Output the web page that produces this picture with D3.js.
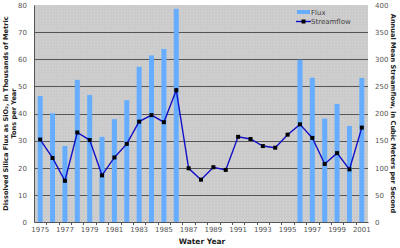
<!DOCTYPE html>
<html>
<head>
<meta charset="utf-8">
<script src="https://cdn.jsdelivr.net/npm/d3@7"></script>
<style>
  body { margin: 0; background: #fff; }
  svg { display: block; }
  .tick text { font-family: "DejaVu Sans", sans-serif; font-size: 7px; fill: #555; }
  .ttl { font-family: "DejaVu Sans", sans-serif; font-weight: bold; fill: #222; }
</style>
</head>
<body>
<div id="chart"></div>
<script>
const years = d3.range(1975, 2002);
// dissolved silica flux, thousands of metric tons (null = no data)
const flux = [46.5, 40.1, 28.0, 52.4, 46.8, 31.4, 37.9, 44.9, 57.2, 61.4, 63.8, 78.6,
  null, null, null, null, null, null, null, null, null,
  59.8, 53.2, 38.1, 43.5, 35.4, 53.1];
// annual mean streamflow, m3/s
const streamflow = [152, 118, 76, 165, 151, 86, 119, 144, 185, 197, 184, 243,
  99, 78, 101, 96, 157, 153, 140, 137, 161,
  180, 155, 107, 127, 97, 174];
const leftTicks = [0, 10, 20, 30, 40, 50, 60, 70, 80];
const rightTicks = [0, 50, 100, 150, 200, 250, 300, 350, 400];

const W = 400, H = 248;
const m = { top: 5, right: 32, bottom: 26, left: 34 };
const iw = W - m.left - m.right;
const ih = H - m.top - m.bottom;

const svg = d3.select("#chart").append("svg").attr("width", W).attr("height", H);

const defs = svg.append("defs");
const pat = defs.append("pattern").attr("id", "dots")
  .attr("width", 3).attr("height", 3).attr("patternUnits", "userSpaceOnUse");
pat.append("rect").attr("width", 3).attr("height", 3).attr("fill", "#cbcbcb");
pat.append("rect").attr("width", 1).attr("height", 1).attr("fill", "#d6d6d6");

const g = svg.append("g").attr("transform", `translate(${m.left},${m.top})`);

const xb = d3.scaleBand().domain(years).range([0, iw]);
const yL = d3.scaleLinear().domain([0, 80]).range([ih, 0]);
const yR = d3.scaleLinear().domain([0, 400]).range([ih, 0]);

g.append("rect").attr("width", iw).attr("height", ih).attr("fill", "url(#dots)");

// gridlines
g.append("g").selectAll("line").data(leftTicks.slice(1, -1)).join("line")
  .attr("x1", 0).attr("x2", iw)
  .attr("y1", (d) => Math.round(yL(d)) + 0.5).attr("y2", (d) => Math.round(yL(d)) + 0.5)
  .attr("stroke", "#555").attr("stroke-width", 1);

// flux bars
const bw = 5;
g.append("g").selectAll("rect")
  .data(years.map((yr, i) => ({ yr, v: flux[i] })).filter((d) => d.v != null))
  .join("rect")
  .attr("x", (d) => xb(d.yr) + xb.bandwidth() / 2 - bw / 2)
  .attr("width", bw)
  .attr("y", (d) => yL(d.v))
  .attr("height", (d) => ih - yL(d.v))
  .attr("fill", "#66adff");

// streamflow line
const pts = years.map((yr, i) => [xb(yr) + xb.bandwidth() / 2, yR(streamflow[i])]);
g.append("path").attr("d", d3.line()(pts))
  .attr("fill", "none").attr("stroke", "#1010c8").attr("stroke-width", 1.4);
g.append("g").selectAll("rect").data(pts).join("rect")
  .attr("x", (d) => d[0] - 2).attr("y", (d) => d[1] - 2)
  .attr("width", 4).attr("height", 4).attr("fill", "#000");

// axes
const xAxis = g.append("g").attr("transform", `translate(0,${ih})`)
  .call(d3.axisBottom(xb).tickSize(0).tickPadding(5)
    .tickFormat((d) => ((d - 1975) % 2 === 0 ? d : "")));
xAxis.select(".domain").attr("stroke", "#555");
// small ticks between categories
xAxis.append("g").selectAll("line").data(years.slice(1)).join("line")
  .attr("x1", (d) => Math.round(xb(d)) + 0.5).attr("x2", (d) => Math.round(xb(d)) + 0.5)
  .attr("y1", 0).attr("y2", 3).attr("stroke", "#555");

const yAxL = g.append("g")
  .call(d3.axisLeft(yL).tickValues(leftTicks).tickSize(0).tickPadding(7));
yAxL.select(".domain").attr("stroke", "#555");

const yAxR = g.append("g").attr("transform", `translate(${iw},0)`)
  .call(d3.axisRight(yR).tickValues(rightTicks).tickSize(0).tickPadding(7));
yAxR.select(".domain").remove();

// legend
const lg = g.append("g").attr("transform", `translate(${263},${5})`);
lg.append("rect").attr("x", 0).attr("y", 0).attr("width", 13).attr("height", 4).attr("fill", "#66adff");
lg.append("text").attr("x", 14).attr("y", 5)
  .style("font-family", "DejaVu Sans").style("font-size", "7px").attr("fill", "#444").text("Flux");
lg.append("line").attr("x1", -1).attr("x2", 14).attr("y1", 11.5).attr("y2", 11.5)
  .attr("stroke", "#1010c8").attr("stroke-width", 1.4);
lg.append("rect").attr("x", 4.5).attr("y", 9.5).attr("width", 4).attr("height", 4).attr("fill", "#000");
lg.append("text").attr("x", 14).attr("y", 14)
  .style("font-family", "DejaVu Sans").style("font-size", "7px").attr("fill", "#444").text("Streamflow");

// titles
const cy = m.top + ih / 2;
const lt = svg.append("text").attr("class", "ttl").style("font-size", "6.6px")
  .attr("text-anchor", "middle").attr("transform", `translate(8,${cy}) rotate(-90)`);
lt.append("tspan").attr("x", 0).attr("dy", 0).text("Dissolved Silica Flux as SiO\u2082, in Thousands of Metric");
lt.append("tspan").attr("x", 0).attr("dy", "1.25em").text("Tons per Year");

svg.append("text").attr("class", "ttl").style("font-size", "6.6px")
  .attr("text-anchor", "middle").attr("transform", `translate(391,${cy}) rotate(90)`)
  .text("Annual Mean Streamflow, in Cubic Meters per Second");

svg.append("text").attr("class", "ttl").style("font-size", "7.5px")
  .attr("text-anchor", "middle").attr("x", 202).attr("y", 244).text("Water Year");
</script>
</body>
</html>
